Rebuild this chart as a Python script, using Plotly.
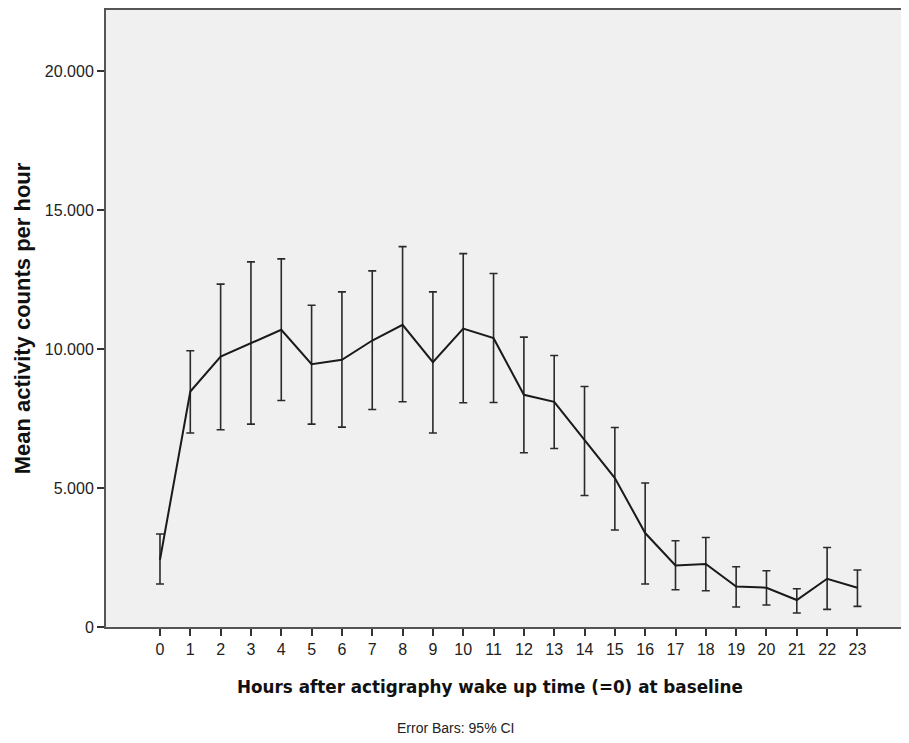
import plotly.graph_objects as go

hours = list(range(24))
means = [2420, 8475, 9735, 10215, 10695, 9460, 9615, 10310, 10874, 9532, 10741, 10395,
         8356, 8104, 6737, 5360, 3381, 2216, 2266, 1460, 1414, 971, 1737, 1414]
upper = [3345, 9940, 12340, 13140, 13248, 11582, 12061, 12816, 13690, 12061, 13438, 12720,
         10431, 9770, 8655, 7180, 5180, 3104, 3223, 2169, 2025, 1378, 2863, 2050]
lower = [1547, 6980, 7097, 7302, 8151, 7302, 7194, 7827, 8104, 6980, 8068, 8080,
         6270, 6425, 4734, 3489, 1547, 1342, 1306, 719, 791, 503, 634, 741]
y_tickvals = [0, 5000, 10000, 15000, 20000]
y_ticktext = ["0", "5.000", "10.000", "15.000", "20.000"]

err_plus = [u - m for u, m in zip(upper, means)]
err_minus = [m - l for m, l in zip(means, lower)]

fig = go.Figure()
fig.add_trace(go.Scatter(
    x=hours, y=means, mode="lines",
    line=dict(color="#1a1a1a", width=2),
    error_y=dict(type="data", symmetric=False, array=err_plus, arrayminus=err_minus,
                 color="#2a2a2a", thickness=1.6, width=4),
    showlegend=False,
))

axis_font = dict(family="Liberation Sans, Arial, sans-serif", size=16, color="#222")
fig.update_layout(
    width=901, height=735,
    margin=dict(l=98, r=0, t=2, b=116),
    paper_bgcolor="white", plot_bgcolor="#F0F0F0",
    font=axis_font,
    xaxis=dict(range=[-1.78, 24.7], tickvals=hours, ticktext=[str(h) for h in hours],
               showgrid=False, zeroline=False, showline=True, linecolor="#555",
               linewidth=2, mirror=True, ticks="outside", ticklen=7, tickwidth=1.5,
               tickcolor="#333", tickfont=axis_font),
    yaxis=dict(range=[0, 22205], tickvals=y_tickvals, ticktext=y_ticktext,
               showgrid=False, zeroline=False, showline=True, linecolor="#555",
               linewidth=2, ticks="outside", ticklen=7, tickwidth=1.5, tickcolor="#333",
               tickfont=axis_font,
               title=dict(text="<b>Mean activity counts per hour</b>",
                          font=dict(family="Liberation Sans, Arial, sans-serif", size=22, color="#111"),
                          standoff=8)),
    annotations=[
        dict(text="<b>Hours after actigraphy wake up time (=0) at baseline</b>",
             xref="paper", yref="paper", x=0.478, y=-0.097,
             xanchor="center", yanchor="middle", showarrow=False,
             font=dict(family="DejaVu Sans, sans-serif", size=16.8, color="#111")),
        dict(text="Error Bars: 95% CI", xref="paper", yref="paper",
             x=0.435, y=-0.164, xanchor="center", yanchor="middle",
             showarrow=False,
             font=dict(family="Liberation Sans, Arial, sans-serif", size=14, color="#222")),
    ],
)

fig.write_html("out.html")
